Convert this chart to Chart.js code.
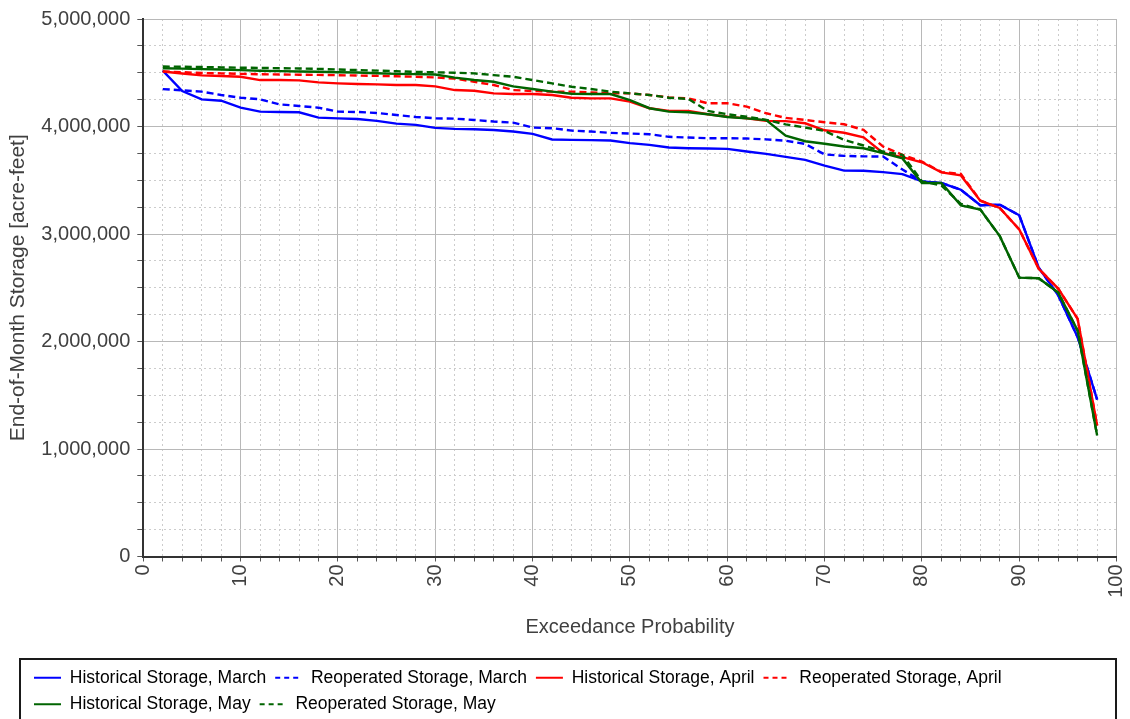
<!DOCTYPE html>
<html>
<head>
<meta charset="utf-8">
<title>End-of-Month Storage Exceedance</title>
<script src="https://cdn.jsdelivr.net/npm/chart.js@4.4.1/dist/chart.umd.min.js"></script>
<style>
  html, body { margin: 0; padding: 0; background: #ffffff; }
  canvas { display: block; }
</style>
</head>
<body>
<canvas id="chart" width="1130" height="719"></canvas>
<script>
// Exceedance probability (%) for each ranked month
const exceedance = [2, 4, 6, 8, 10, 12, 14, 16, 18, 20, 22, 24, 26, 28, 30, 32, 34, 36, 38, 40,
  42, 44, 46, 48, 50, 52, 54, 56, 58, 60, 62, 64, 66, 68, 70, 72, 74, 76, 78, 80,
  82, 84, 86, 88, 90, 92, 94, 96, 98];

// End-of-month storage, acre-feet
const histMarch = [4520000, 4330000, 4252000, 4240000, 4175000, 4138000, 4135000, 4132000, 4083000, 4076000,
  4070000, 4052000, 4027000, 4015000, 3987000, 3978000, 3974000, 3968000, 3953000, 3931000,
  3879000, 3876000, 3873000, 3870000, 3845000, 3829000, 3805000, 3798000, 3795000, 3792000,
  3768000, 3745000, 3718000, 3690000, 3636000, 3590000, 3589000, 3576000, 3557000, 3489000,
  3474000, 3412000, 3267000, 3272000, 3174000, 2686000, 2430000, 2040000, 1460000];

const reopMarch = [4348000, 4336000, 4324000, 4293000, 4268000, 4253000, 4206000, 4191000, 4175000, 4138000,
  4135000, 4126000, 4107000, 4089000, 4076000, 4073000, 4061000, 4046000, 4036000, 3990000,
  3984000, 3962000, 3953000, 3941000, 3935000, 3928000, 3904000, 3897000, 3891000, 3891000,
  3888000, 3880000, 3868000, 3838000, 3740000, 3727000, 3722000, 3721000, 3600000, 3489000,
  3474000, 3412000, 3267000, 3272000, 3174000, 2686000, 2430000, 2040000, 1460000];

const histApril = [4512000, 4493000, 4476000, 4470000, 4463000, 4432000, 4432000, 4429000, 4410000, 4401000,
  4395000, 4392000, 4386000, 4386000, 4373000, 4339000, 4333000, 4308000, 4302000, 4302000,
  4293000, 4268000, 4262000, 4262000, 4231000, 4170000, 4145000, 4145000, 4114000, 4092000,
  4076000, 4052000, 4050000, 4030000, 3965000, 3942000, 3900000, 3755000, 3715000, 3667000,
  3573000, 3545000, 3310000, 3242000, 3042000, 2677000, 2492000, 2210000, 1219000];

const reopApril = [4512000, 4505000, 4498000, 4494000, 4490000, 4486000, 4484000, 4482000, 4480000, 4477000,
  4474000, 4471000, 4467000, 4463000, 4456000, 4445000, 4416000, 4386000, 4339000, 4330000,
  4324000, 4324000, 4317000, 4308000, 4308000, 4293000, 4271000, 4262000, 4216000, 4216000,
  4185000, 4123000, 4080000, 4061000, 4039000, 4021000, 3968000, 3814000, 3736000, 3674000,
  3576000, 3560000, 3310000, 3242000, 3042000, 2677000, 2492000, 2210000, 1219000];

const histMay = [4542000, 4538000, 4534000, 4530000, 4524000, 4518000, 4515000, 4512000, 4509000, 4504000,
  4502000, 4496000, 4490000, 4487000, 4484000, 4455000, 4432000, 4416000, 4373000, 4349000,
  4324000, 4305000, 4302000, 4302000, 4246000, 4170000, 4138000, 4132000, 4114000, 4089000,
  4076000, 4060000, 3915000, 3863000, 3840000, 3814000, 3798000, 3752000, 3703000, 3474000,
  3474000, 3267000, 3227000, 2980000, 2594000, 2588000, 2455000, 2100000, 1126000];

const reopMay = [4558000, 4556000, 4553000, 4550000, 4547000, 4545000, 4542000, 4540000, 4536000, 4530000,
  4525000, 4520000, 4514000, 4508000, 4504000, 4500000, 4494000, 4478000, 4463000, 4432000,
  4401000, 4370000, 4349000, 4324000, 4308000, 4293000, 4268000, 4256000, 4145000, 4114000,
  4092000, 4061000, 4020000, 3990000, 3959000, 3875000, 3823000, 3767000, 3736000, 3490000,
  3450000, 3280000, 3227000, 2980000, 2594000, 2588000, 2455000, 2100000, 1126000];

const seriesNames = [
  'Historical Storage, March', 'Reoperated Storage, March',
  'Historical Storage, April', 'Reoperated Storage, April',
  'Historical Storage, May', 'Reoperated Storage, May'
];

const xTickLabels = [0, 10, 20, 30, 40, 50, 60, 70, 80, 90, 100];
const yTickLabels = [0, 1000000, 2000000, 3000000, 4000000, 5000000];

const FONT = "'Liberation Sans', Arial, Helvetica, sans-serif";
const TEXT = '#404040';
const DASH = [7, 4];

function points(values) {
  return exceedance.map((x, i) => ({ x: x, y: values[i] }));
}

function series(i, values, color, dashed) {
  return {
    label: seriesNames[i],
    data: points(values),
    borderColor: color,
    backgroundColor: color,
    borderWidth: 2.4,
    borderDash: dashed ? DASH : [],
    pointRadius: 0,
    pointHoverRadius: 0,
    tension: 0,
    fill: false,
    order: 10 - i
  };
}

// Legend entries drawn as short line samples carrying each series' dash pattern
function lineLegendLabels(chart) {
  const items = Chart.defaults.plugins.legend.labels.generateLabels(chart);
  items.forEach((item) => {
    const ds = chart.data.datasets[item.datasetIndex];
    item.strokeStyle = ds.borderColor;
    item.fillStyle = ds.borderColor;
    item.lineWidth = 2;
    item.lineDash = ds.borderDash.length ? [5, 4] : [];
    item.pointStyle = 'line';
  });
  return items.sort((a, b) => a.datasetIndex - b.datasetIndex);
}

// Outline around the legend block and placement of its rows
const legendFrame = {
  id: 'legendFrame',
  afterLayout(chart) {
    const lg = chart.legend;
    lg.left = 25;
    lg.right = 1116;
    lg.width = lg.right - lg.left;
    lg.top = 660;
    lg.bottom = lg.top + lg.height;
  },
  afterDraw(chart) {
    const ctx = chart.ctx;
    ctx.save();
    ctx.strokeStyle = '#1a1a1a';
    ctx.lineWidth = 2;
    ctx.strokeRect(20, 659, 1096, 70);
    ctx.restore();
  }
};

Chart.defaults.font.family = FONT;
Chart.defaults.color = TEXT;

new Chart(document.getElementById('chart'), {
  type: 'line',
  data: {
    datasets: [
      series(0, histMarch, '#0000ff', false),
      series(1, reopMarch, '#0000ff', true),
      series(2, histApril, '#ff0000', false),
      series(3, reopApril, '#ff0000', true),
      series(4, histMay, '#006400', false),
      series(5, reopMay, '#006400', true)
    ]
  },
  options: {
    responsive: false,
    animation: false,
    devicePixelRatio: 1,
    layout: { padding: { left: 0, right: 13.4, top: 17, bottom: 0 } },
    plugins: {
      tooltip: { enabled: false },
      legend: {
        position: 'bottom',
        align: 'start',
        labels: {
          usePointStyle: true,
          pointStyle: 'line',
          pointStyleWidth: 27,
          padding: 9,
          color: '#000000',
          font: { size: 17.5, family: FONT },
          generateLabels: lineLegendLabels
        }
      }
    },
    scales: {
      x: {
        type: 'linear',
        min: 0,
        max: 100,
        afterFit(scale) {
          scale.height = 99.5;
          scale.paddingRight = 0;
        },
        ticks: {
          stepSize: 2,
          autoSkip: false,
          minRotation: 90,
          maxRotation: 90,
          padding: 3,
          color: TEXT,
          font: { size: 20, family: FONT },
          callback: (v) => xTickLabels.includes(v) ? String(v) : ''
        },
        grid: {
          color: (c) => (c.tick && c.tick.value % 10 === 0) ? '#b8b8b8' : '#cccccc',
          lineWidth: 1,
          tickColor: '#555555',
          tickLength: 5,
          tickWidth: 1
        },
        border: {
          color: '#333333',
          width: 2,
          dash: (c) => (c.tick && c.tick.value % 10 !== 0) ? [2, 3] : []
        },
        title: {
          display: true,
          text: 'Exceedance Probability',
          color: TEXT,
          font: { size: 20, family: FONT },
          padding: { top: 4, bottom: 17 }
        }
      },
      y: {
        type: 'linear',
        min: 0,
        max: 5000000,
        afterFit(scale) { scale.width = 143.3; },
        ticks: {
          stepSize: 250000,
          autoSkip: false,
          padding: 7,
          color: TEXT,
          font: { size: 20, family: FONT },
          callback: (v) => yTickLabels.includes(v) ? v.toLocaleString('en-US') : ''
        },
        grid: {
          color: (c) => (c.tick && c.tick.value % 1000000 === 0) ? '#b8b8b8' : '#cccccc',
          lineWidth: 1,
          tickColor: '#555555',
          tickLength: 6,
          tickWidth: 1
        },
        border: {
          color: '#333333',
          width: 2,
          dash: (c) => (c.tick && c.tick.value % 1000000 !== 0) ? [2, 3] : []
        },
        title: {
          display: true,
          text: 'End-of-Month Storage [acre-feet]',
          color: TEXT,
          font: { size: 21, family: FONT },
          padding: { top: 6, bottom: 4 }
        }
      }
    }
  },
  plugins: [legendFrame]
});
</script>
</body>
</html>
